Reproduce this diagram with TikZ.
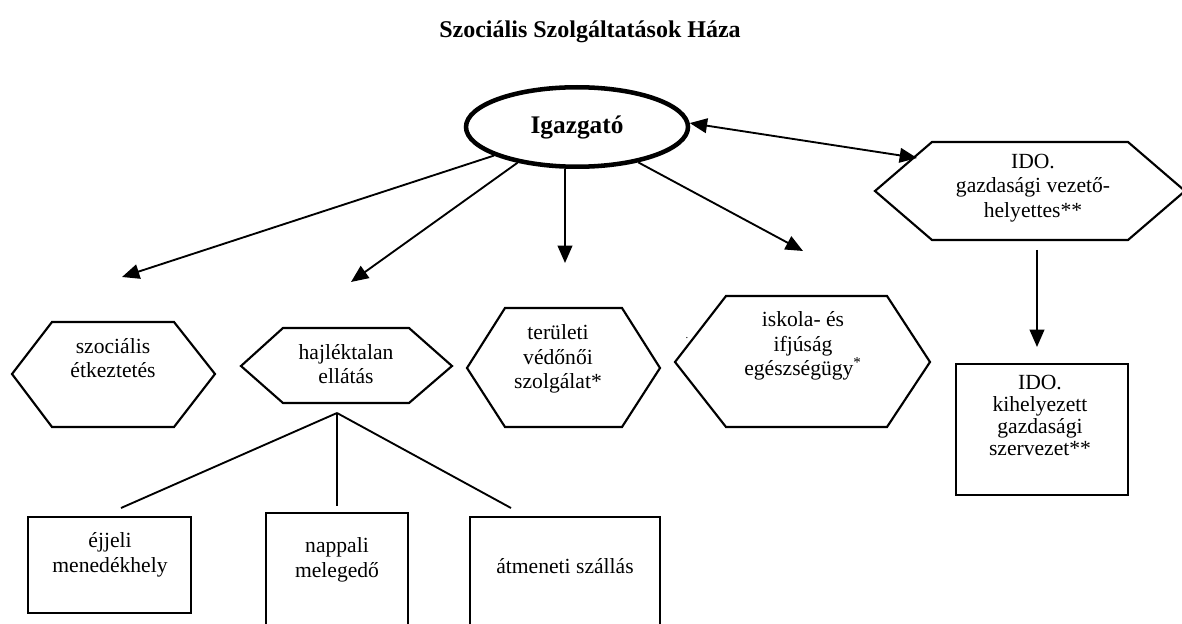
\documentclass[tikz,border=0pt]{standalone}
\usepackage{fontspec}
\setmainfont{Liberation Serif}
\usetikzlibrary{arrows.meta,shapes.geometric}

\tikzset{
  txt/.style={inner sep=0.75pt, align=center, font=\fontsize{16.2}{18.6}\selectfont},
  frame/.style={line width=1.6pt, line join=miter},
  link/.style={line width=1.4pt},
  arr/.style={line width=1.4pt, -{Triangle[length=13pt,width=11pt]}},
  darr/.style={line width=1.4pt, {Triangle[length=13pt,width=11pt]}-{Triangle[length=13pt,width=11pt]}},
}

\begin{document}
\begin{tikzpicture}[x=0.75pt,y=0.75pt,yscale=-1]
\useasboundingbox (0,0) rectangle (1182,624);

% Text Node
\node[font=\fontsize{18}{22}\selectfont\bfseries, inner sep=0.75pt] (title) at (590,32) {Szociális Szolgáltatások Háza};

%Shape: Ellipse
\node[draw, ellipse, line width=3.4pt, inner sep=0pt, minimum width=166.5pt, minimum height=59.6pt, font=\fontsize{19}{22}\selectfont\bfseries] (igaz) at (577,127) {Igazgató};

%Shape: Hexagon
\draw[frame] (875,191) -- (932,142) -- (1128,142) -- (1185,191) -- (1128,240) -- (932,240) -- cycle;
%Shape: Hexagon
\draw[frame] (12,374) -- (52,322) -- (174,322) -- (215,374) -- (174,427) -- (52,427) -- cycle;
%Shape: Hexagon
\draw[frame] (241,366) -- (283,328) -- (409,328) -- (452,366) -- (409,403) -- (283,403) -- cycle;
%Shape: Hexagon
\draw[frame] (467,368) -- (505,308) -- (622,308) -- (660,368) -- (622,427) -- (505,427) -- cycle;
%Shape: Hexagon
\draw[frame] (675,362) -- (726,296) -- (887,296) -- (930,362) -- (887,427) -- (726,427) -- cycle;

%Shape: Rectangle
\draw[frame] (956,364) rectangle (1128,495);
%Shape: Rectangle
\draw[frame] (28,517) rectangle (191,613);
%Shape: Rectangle
\draw[frame] (266,513) rectangle (408,640);
%Shape: Rectangle
\draw[frame] (470,517) rectangle (660,640);

% Text Node
\node[txt] (idoh) at (1033,188) {IDO.\\gazdasági vezető-\\helyettes**};
% Text Node
\node[txt] (szoc) at (113,358) {szociális\\étkeztetés};
% Text Node
\node[txt] (hajl) at (346,364) {hajléktalan\\ellátás};
% Text Node
\node[txt] (terul) at (558,359) {területi\\védőnői\\szolgálat*};
% Text Node
\node[txt] (isk) at (803,346) {iskola- és\\ifjúság\\egészségügy\textsuperscript{*}};
% Text Node
\node[txt, font=\fontsize{8}{8}\selectfont] (pont) at (687,338) {.};
% Text Node
\node[txt, font=\fontsize{16.2}{16.5}\selectfont] (idob) at (1040,415) {IDO.\\kihelyezett\\gazdasági\\szervezet**};
% Text Node
\node[txt] (ejj) at (110,555) {éjjeli\\menedékhely};
% Text Node
\node[txt] (napp) at (337,560) {nappali\\melegedő};
% Text Node
\node[txt] (atm) at (565,566) {átmeneti szállás};

%Straight Lines
\coordinate (tszoc) at (122,277);
\coordinate (thajl) at (351,282);
\coordinate (tterul) at (565,263);
\coordinate (tisk) at (803,251);
\coordinate (tido) at (917,158);
\coordinate (idoal) at (1037,250);
\coordinate (tidob) at (1037,347);
\draw[arr] (igaz.199) -- (tszoc);
\draw[arr] (igaz.211) -- (thajl);
\draw[arr] (igaz.south -| tterul) -- (tterul);
\draw[arr] (igaz.330) -- (tisk);
\draw[darr] (igaz.2) -- (tido);
\draw[arr] (idoal) -- (tidob);

%Straight Lines
\coordinate (villa) at (337,413);
\coordinate (vejj) at (121,508);
\coordinate (vnapp) at (337,506);
\coordinate (vatm) at (511,508);
\draw[link] (villa) -- (vejj);
\draw[link] (villa) -- (vnapp);
\draw[link] (villa) -- (vatm);

\end{tikzpicture}
\end{document}
